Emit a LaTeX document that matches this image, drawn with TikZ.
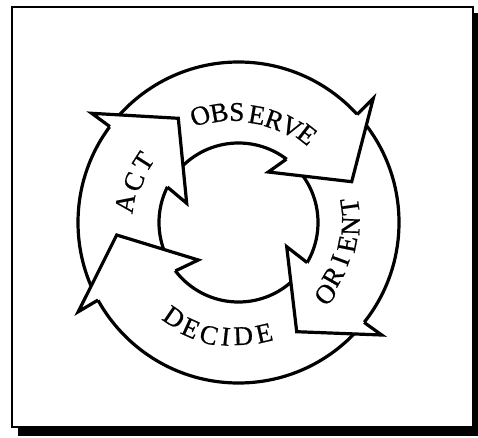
\documentclass[tikz,border=0pt]{standalone}
\usepackage{fontspec}
\setmainfont{Liberation Serif}
\newfontfamily\labfont[FakeBold=0.7]{Liberation Serif}
\begin{document}
\begin{tikzpicture}[x=1pt,y=1pt,
  ring/.style={line width=3.2pt, line join=miter, miter limit=20},
  letter/.style={inner sep=0pt, font=\labfont\fontsize{27}{27}\selectfont}]
\useasboundingbox (0,0) rectangle (478,437);
% frame with shadow
\fill[black] (18,1) rectangle (478,424);
\filldraw[fill=white, draw=black, line width=1.5pt] (12,10) rectangle (473,430);
% ring
\coordinate (C) at (238.5,214.5);
\draw[ring] (C) circle[radius=160.5];
\draw[ring] (C) circle[radius=79.5];
% heads: outer ring point, outer barb, tip, inner barb, inner ring point
\coordinate (actor) at ([shift={(143.3:160.5)}]C);
\coordinate (actob) at (91.7,323.7);
\coordinate (acttip) at (178.3,318.7);
\coordinate (actib) at (186.7,233.7);
\coordinate (actir) at ([shift={(153.5:79.5)}]C);
\coordinate (obsor) at ([shift={(42.3:160.5)}]C);
\coordinate (obsob) at (373.3,338.7);
\coordinate (obstip) at (351.7,255.3);
\coordinate (obsib) at (268.3,265);
\coordinate (obsir) at ([shift={(52.9:79.5)}]C);
\coordinate (oror) at ([shift={(-38.5:160.5)}]C);
\coordinate (orob) at (381.7,102);
\coordinate (ortip) at (296.7,105.3);
\coordinate (orib) at (286.7,190.3);
\coordinate (orir) at ([shift={(-30.3:79.5)}]C);
\coordinate (decor) at ([shift={(208.9:160.5)}]C);
\coordinate (decob) at (78.3,125.3);
\coordinate (dectip) at (116.7,202);
\coordinate (decib) at (198.3,177);
\coordinate (decir) at ([shift={(217.5:79.5)}]C);
\foreach \h in {act,obs,or,dec}{
  \fill[white] (\h or)--(\h ob)--(\h tip)--(\h ib)--(\h ir)--cycle;
  \draw[ring] (\h or)--(\h ob)--(\h tip)--(\h ib)--(\h ir);
}
% labels
\foreach \ch/\a/\r [count=\i] in {O/109.7/113.5,B/100.0/111.5,S/90.9/110.5,E/80.3/109,R/70.7/108.5,V/61.0/109,E/52.1/111.5}
  \node[letter, rotate=\a-90] (obs\i) at ([shift={(\a:\r)}]C) {\ch};
\foreach \ch/\a/\r [count=\i] in {A/170.4/115.1,C/158.7/112.2,T/147.4/113.0}
  \node[letter, rotate=\a-90] (act\i) at ([shift={(\a:\r)}]C) {\ch};
\foreach \ch/\a/\r [count=\i] in {O/-39.4/112.8,R/-29.7/109,I/-20.3/108.5,E/-11.2/110.9,N/-1.8/112.3,T/8.1/112.6}
  \node[letter, rotate=\a+90] (ori\i) at ([shift={(\a:\r)}]C) {\ch};
\foreach \ch/\a/\r [count=\i] in {D/-124.2/114.7,E/-114.3/116.1,C/-104.7/116.3,I/-96.4/114.9,D/-87.6/113.6,E/-77.0/113.7}
  \node[letter, rotate=\a+90] (dec\i) at ([shift={(\a:\r)}]C) {\ch};
\end{tikzpicture}
\end{document}
